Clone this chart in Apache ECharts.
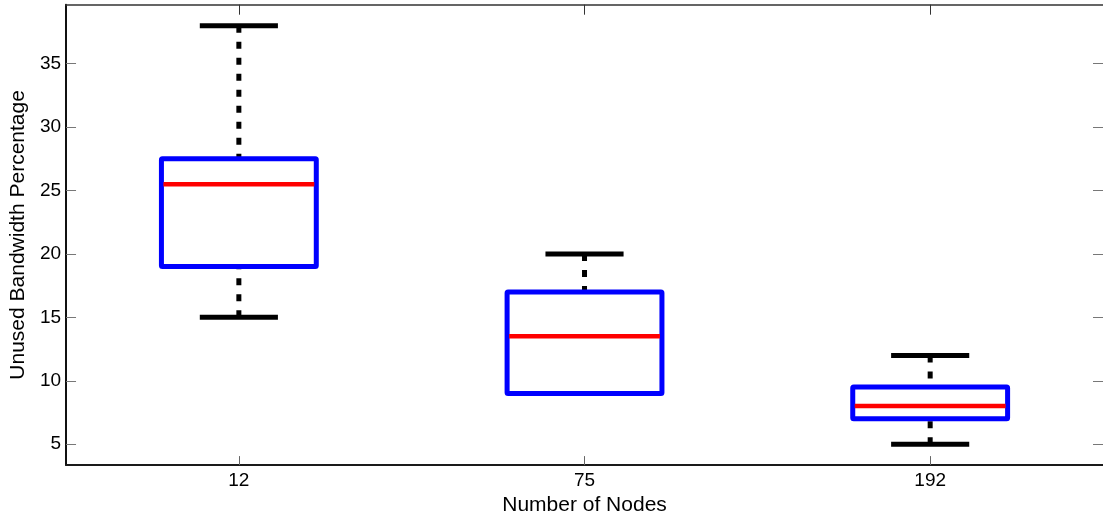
<!DOCTYPE html>
<html>
<head>
<meta charset="utf-8">
<script src="https://cdn.jsdelivr.net/npm/echarts@6/dist/echarts.min.js"></script>
<style>
  html, body { margin: 0; padding: 0; background: #fff; }
  #chart { width: 1103px; height: 521px; }
</style>
</head>
<body>
<div id="chart"></div>
<script>
// ---- data ----
const categories = ['12', '75', '192'];
const lowerWhisker = [15, 9, 5];
const q1 = [19, 9, 7];
const medians = [25.5, 13.5, 8];
const q3 = [27.5, 17, 9.5];
const upperWhisker = [38, 20, 12];
const yTicks = [5, 10, 15, 20, 25, 30, 35];
const yMin = 3.35, yMax = 39.65;

const boxData = categories.map((c, i) => [i, lowerWhisker[i], q1[i], medians[i], q3[i], upperWhisker[i]]);

const FONT = 'Liberation Sans, Arial, Helvetica, sans-serif';

function renderBox(params, api) {
  const idx = api.value(0);
  const band = api.size([1, 0])[0];
  const boxHalf = band * 0.224;
  const capHalf = band * 0.113;
  const pLow = api.coord([idx, api.value(1)]);
  const pQ1 = api.coord([idx, api.value(2)]);
  const pMed = api.coord([idx, api.value(3)]);
  const pQ3 = api.coord([idx, api.value(4)]);
  const pUp = api.coord([idx, api.value(5)]);
  const cx = pMed[0];
  const dashStyle = { stroke: '#000', lineWidth: 5, lineDash: [7, 9], lineCap: 'butt', fill: null };
  const solidBlack = { stroke: '#000', lineWidth: 5, lineCap: 'butt', fill: null };
  const children = [];
  children.push({ type: 'line', shape: { x1: cx, y1: pUp[1], x2: cx, y2: pQ3[1] }, style: dashStyle });
  children.push({ type: 'line', shape: { x1: cx, y1: pLow[1], x2: cx, y2: pQ1[1] }, style: dashStyle });
  children.push({ type: 'line', shape: { x1: cx - capHalf, y1: pUp[1], x2: cx + capHalf, y2: pUp[1] }, style: solidBlack });
  children.push({ type: 'line', shape: { x1: cx - capHalf, y1: pLow[1], x2: cx + capHalf, y2: pLow[1] }, style: solidBlack });
  children.push({
    type: 'rect',
    shape: { x: cx - boxHalf, y: pQ3[1], width: boxHalf * 2, height: pQ1[1] - pQ3[1], r: 1 },
    style: { stroke: '#0000ff', lineWidth: 5, fill: '#fff', lineJoin: 'round' }
  });
  children.push({ type: 'line', shape: { x1: cx - boxHalf + 2, y1: pMed[1], x2: cx + boxHalf - 2, y2: pMed[1] }, style: { stroke: '#ff0000', lineWidth: 4.5, lineCap: 'butt' } });
  return { type: 'group', children: children };
}

const chart = echarts.init(document.getElementById('chart'), null, { renderer: 'canvas' });
chart.setOption({
  animation: false,
  backgroundColor: '#fff',
  grid: { left: 63.5, right: -3, top: 4.7, bottom: 52.5, containLabel: false },
  xAxis: [
    {
      type: 'category',
      data: categories,
      position: 'bottom',
      boundaryGap: true,
      name: 'Number of Nodes',
      nameLocation: 'middle',
      nameGap: 26,
      nameTextStyle: { fontFamily: FONT, fontSize: 21, color: '#000' },
      axisLine: { show: true, lineStyle: { color: '#1a1a1a', width: 2 } },
      axisTick: { show: true, inside: true, length: 9, alignWithLabel: true, lineStyle: { color: '#666', width: 1 } },
      axisLabel: { fontFamily: FONT, fontSize: 19, color: '#000', margin: 6 },
      splitLine: { show: false }
    },
    {
      type: 'category',
      data: categories,
      position: 'top',
      boundaryGap: true,
      axisLine: { show: true, lineStyle: { color: '#333', width: 1.5 } },
      axisTick: { show: true, inside: true, length: 10, alignWithLabel: true, lineStyle: { color: '#333', width: 1 } },
      axisLabel: { show: false },
      splitLine: { show: false }
    }
  ],
  yAxis: [
    {
      type: 'value',
      min: yMin,
      max: yMax,
      position: 'left',
      name: 'Unused Bandwidth Percentage',
      nameLocation: 'middle',
      nameGap: 37,
      nameTextStyle: { fontFamily: FONT, fontSize: 21, color: '#000' },
      axisLine: { show: true, lineStyle: { color: '#111', width: 2 } },
      axisTick: { show: true, inside: true, length: 10, customValues: yTicks, lineStyle: { color: '#777', width: 1 } },
      axisLabel: { fontFamily: FONT, fontSize: 19, color: '#000', margin: 5, customValues: yTicks },
      splitLine: { show: false }
    },
    {
      type: 'value',
      min: yMin,
      max: yMax,
      position: 'right',
      axisLine: { show: false },
      axisTick: { show: true, inside: true, length: 10, customValues: yTicks, lineStyle: { color: '#777', width: 1 } },
      axisLabel: { show: false, customValues: yTicks },
      splitLine: { show: false }
    }
  ],
  series: [
    {
      type: 'custom',
      xAxisIndex: 0,
      yAxisIndex: 0,
      renderItem: renderBox,
      encode: { x: 0, y: [1, 2, 3, 4, 5] },
      data: boxData,
      clip: false
    }
  ]
});
</script>
</body>
</html>
